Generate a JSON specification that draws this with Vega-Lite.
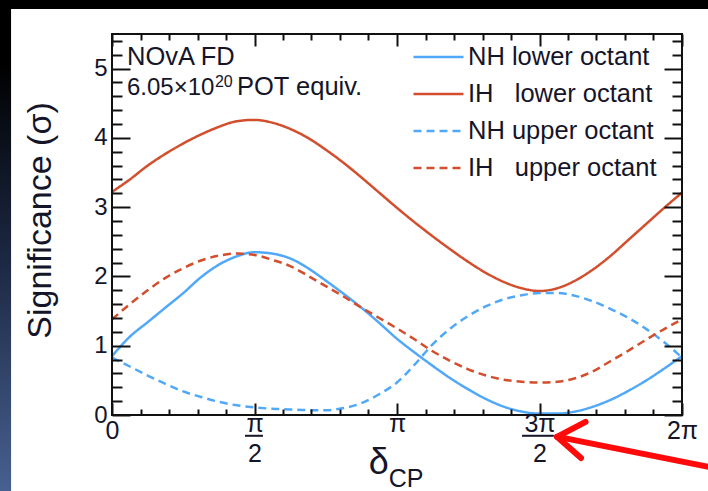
{
  "$schema": "https://vega.github.io/schema/vega-lite/v6.json",
  "width": 570,
  "height": 381,
  "autosize": {"type": "none"},
  "padding": {"left": 112, "top": 34, "right": 26, "bottom": 76},
  "background": "#000000",
  "config": {
    "font": "Liberation Sans",
    "view": {"stroke": null},
    "axis": {"grid": false, "labelColor": "#15152a", "titleColor": "#15152a", "tickColor": "#111111", "tickWidth": 2}
  },
  "datasets": {
    "curves": [
      {"s": "NH lower octant", "x": 0.0000, "y": 0.85},
      {"s": "NH lower octant", "x": 0.1963, "y": 1.13},
      {"s": "NH lower octant", "x": 0.3927, "y": 1.34},
      {"s": "NH lower octant", "x": 0.5890, "y": 1.55},
      {"s": "NH lower octant", "x": 0.7854, "y": 1.76},
      {"s": "NH lower octant", "x": 0.9817, "y": 1.99},
      {"s": "NH lower octant", "x": 1.1781, "y": 2.17},
      {"s": "NH lower octant", "x": 1.3744, "y": 2.29},
      {"s": "NH lower octant", "x": 1.5708, "y": 2.35},
      {"s": "NH lower octant", "x": 1.7671, "y": 2.33},
      {"s": "NH lower octant", "x": 1.9635, "y": 2.26},
      {"s": "NH lower octant", "x": 2.1598, "y": 2.12},
      {"s": "NH lower octant", "x": 2.3562, "y": 1.94},
      {"s": "NH lower octant", "x": 2.5525, "y": 1.75},
      {"s": "NH lower octant", "x": 2.7489, "y": 1.55},
      {"s": "NH lower octant", "x": 2.9452, "y": 1.33},
      {"s": "NH lower octant", "x": 3.1416, "y": 1.10},
      {"s": "NH lower octant", "x": 3.3379, "y": 0.90},
      {"s": "NH lower octant", "x": 3.5343, "y": 0.71},
      {"s": "NH lower octant", "x": 3.7306, "y": 0.53},
      {"s": "NH lower octant", "x": 3.9270, "y": 0.37},
      {"s": "NH lower octant", "x": 4.1233, "y": 0.23},
      {"s": "NH lower octant", "x": 4.3197, "y": 0.12},
      {"s": "NH lower octant", "x": 4.5160, "y": 0.05},
      {"s": "NH lower octant", "x": 4.7124, "y": 0.02},
      {"s": "NH lower octant", "x": 4.9087, "y": 0.02},
      {"s": "NH lower octant", "x": 5.1051, "y": 0.05},
      {"s": "NH lower octant", "x": 5.3014, "y": 0.12},
      {"s": "NH lower octant", "x": 5.4978, "y": 0.22},
      {"s": "NH lower octant", "x": 5.6941, "y": 0.35},
      {"s": "NH lower octant", "x": 5.8905, "y": 0.50},
      {"s": "NH lower octant", "x": 6.0868, "y": 0.67},
      {"s": "NH lower octant", "x": 6.2832, "y": 0.85},
      {"s": "IH\u00a0\u00a0 lower octant", "x": 0.0000, "y": 3.22},
      {"s": "IH\u00a0\u00a0 lower octant", "x": 0.1963, "y": 3.40},
      {"s": "IH\u00a0\u00a0 lower octant", "x": 0.3927, "y": 3.60},
      {"s": "IH\u00a0\u00a0 lower octant", "x": 0.5890, "y": 3.77},
      {"s": "IH\u00a0\u00a0 lower octant", "x": 0.7854, "y": 3.92},
      {"s": "IH\u00a0\u00a0 lower octant", "x": 0.9817, "y": 4.05},
      {"s": "IH\u00a0\u00a0 lower octant", "x": 1.1781, "y": 4.16},
      {"s": "IH\u00a0\u00a0 lower octant", "x": 1.3744, "y": 4.24},
      {"s": "IH\u00a0\u00a0 lower octant", "x": 1.5708, "y": 4.26},
      {"s": "IH\u00a0\u00a0 lower octant", "x": 1.7671, "y": 4.22},
      {"s": "IH\u00a0\u00a0 lower octant", "x": 1.9635, "y": 4.13},
      {"s": "IH\u00a0\u00a0 lower octant", "x": 2.1598, "y": 4.00},
      {"s": "IH\u00a0\u00a0 lower octant", "x": 2.3562, "y": 3.83},
      {"s": "IH\u00a0\u00a0 lower octant", "x": 2.5525, "y": 3.64},
      {"s": "IH\u00a0\u00a0 lower octant", "x": 2.7489, "y": 3.43},
      {"s": "IH\u00a0\u00a0 lower octant", "x": 2.9452, "y": 3.21},
      {"s": "IH\u00a0\u00a0 lower octant", "x": 3.1416, "y": 2.99},
      {"s": "IH\u00a0\u00a0 lower octant", "x": 3.3379, "y": 2.78},
      {"s": "IH\u00a0\u00a0 lower octant", "x": 3.5343, "y": 2.58},
      {"s": "IH\u00a0\u00a0 lower octant", "x": 3.7306, "y": 2.39},
      {"s": "IH\u00a0\u00a0 lower octant", "x": 3.9270, "y": 2.21},
      {"s": "IH\u00a0\u00a0 lower octant", "x": 4.1233, "y": 2.05},
      {"s": "IH\u00a0\u00a0 lower octant", "x": 4.3197, "y": 1.92},
      {"s": "IH\u00a0\u00a0 lower octant", "x": 4.5160, "y": 1.83},
      {"s": "IH\u00a0\u00a0 lower octant", "x": 4.7124, "y": 1.79},
      {"s": "IH\u00a0\u00a0 lower octant", "x": 4.9087, "y": 1.83},
      {"s": "IH\u00a0\u00a0 lower octant", "x": 5.1051, "y": 1.94},
      {"s": "IH\u00a0\u00a0 lower octant", "x": 5.3014, "y": 2.10},
      {"s": "IH\u00a0\u00a0 lower octant", "x": 5.4978, "y": 2.30},
      {"s": "IH\u00a0\u00a0 lower octant", "x": 5.6941, "y": 2.53},
      {"s": "IH\u00a0\u00a0 lower octant", "x": 5.8905, "y": 2.76},
      {"s": "IH\u00a0\u00a0 lower octant", "x": 6.0868, "y": 2.99},
      {"s": "IH\u00a0\u00a0 lower octant", "x": 6.2832, "y": 3.21},
      {"s": "NH upper octant", "x": 0.0000, "y": 0.83},
      {"s": "NH upper octant", "x": 0.1963, "y": 0.70},
      {"s": "NH upper octant", "x": 0.3927, "y": 0.57},
      {"s": "NH upper octant", "x": 0.5890, "y": 0.45},
      {"s": "NH upper octant", "x": 0.7854, "y": 0.34},
      {"s": "NH upper octant", "x": 0.9817, "y": 0.26},
      {"s": "NH upper octant", "x": 1.1781, "y": 0.19},
      {"s": "NH upper octant", "x": 1.3744, "y": 0.14},
      {"s": "NH upper octant", "x": 1.5708, "y": 0.11},
      {"s": "NH upper octant", "x": 1.7671, "y": 0.09},
      {"s": "NH upper octant", "x": 1.9635, "y": 0.08},
      {"s": "NH upper octant", "x": 2.1598, "y": 0.07},
      {"s": "NH upper octant", "x": 2.3562, "y": 0.07},
      {"s": "NH upper octant", "x": 2.5525, "y": 0.10},
      {"s": "NH upper octant", "x": 2.7489, "y": 0.17},
      {"s": "NH upper octant", "x": 2.9452, "y": 0.30},
      {"s": "NH upper octant", "x": 3.1416, "y": 0.47},
      {"s": "NH upper octant", "x": 3.3379, "y": 0.73},
      {"s": "NH upper octant", "x": 3.5343, "y": 1.02},
      {"s": "NH upper octant", "x": 3.7306, "y": 1.25},
      {"s": "NH upper octant", "x": 3.9270, "y": 1.43},
      {"s": "NH upper octant", "x": 4.1233, "y": 1.57},
      {"s": "NH upper octant", "x": 4.3197, "y": 1.67},
      {"s": "NH upper octant", "x": 4.5160, "y": 1.73},
      {"s": "NH upper octant", "x": 4.7124, "y": 1.76},
      {"s": "NH upper octant", "x": 4.9087, "y": 1.76},
      {"s": "NH upper octant", "x": 5.1051, "y": 1.72},
      {"s": "NH upper octant", "x": 5.3014, "y": 1.64},
      {"s": "NH upper octant", "x": 5.4978, "y": 1.53},
      {"s": "NH upper octant", "x": 5.6941, "y": 1.40},
      {"s": "NH upper octant", "x": 5.8905, "y": 1.24},
      {"s": "NH upper octant", "x": 6.0868, "y": 1.05},
      {"s": "NH upper octant", "x": 6.2832, "y": 0.83},
      {"s": "IH\u00a0\u00a0 upper octant", "x": 0.0000, "y": 1.38},
      {"s": "IH\u00a0\u00a0 upper octant", "x": 0.1963, "y": 1.60},
      {"s": "IH\u00a0\u00a0 upper octant", "x": 0.3927, "y": 1.80},
      {"s": "IH\u00a0\u00a0 upper octant", "x": 0.5890, "y": 1.98},
      {"s": "IH\u00a0\u00a0 upper octant", "x": 0.7854, "y": 2.12},
      {"s": "IH\u00a0\u00a0 upper octant", "x": 0.9817, "y": 2.23},
      {"s": "IH\u00a0\u00a0 upper octant", "x": 1.1781, "y": 2.30},
      {"s": "IH\u00a0\u00a0 upper octant", "x": 1.3744, "y": 2.33},
      {"s": "IH\u00a0\u00a0 upper octant", "x": 1.5708, "y": 2.31},
      {"s": "IH\u00a0\u00a0 upper octant", "x": 1.7671, "y": 2.24},
      {"s": "IH\u00a0\u00a0 upper octant", "x": 1.9635, "y": 2.15},
      {"s": "IH\u00a0\u00a0 upper octant", "x": 2.1598, "y": 2.01},
      {"s": "IH\u00a0\u00a0 upper octant", "x": 2.3562, "y": 1.86},
      {"s": "IH\u00a0\u00a0 upper octant", "x": 2.5525, "y": 1.71},
      {"s": "IH\u00a0\u00a0 upper octant", "x": 2.7489, "y": 1.55},
      {"s": "IH\u00a0\u00a0 upper octant", "x": 2.9452, "y": 1.40},
      {"s": "IH\u00a0\u00a0 upper octant", "x": 3.1416, "y": 1.25},
      {"s": "IH\u00a0\u00a0 upper octant", "x": 3.3379, "y": 1.09},
      {"s": "IH\u00a0\u00a0 upper octant", "x": 3.5343, "y": 0.92},
      {"s": "IH\u00a0\u00a0 upper octant", "x": 3.7306, "y": 0.78},
      {"s": "IH\u00a0\u00a0 upper octant", "x": 3.9270, "y": 0.66},
      {"s": "IH\u00a0\u00a0 upper octant", "x": 4.1233, "y": 0.57},
      {"s": "IH\u00a0\u00a0 upper octant", "x": 4.3197, "y": 0.51},
      {"s": "IH\u00a0\u00a0 upper octant", "x": 4.5160, "y": 0.48},
      {"s": "IH\u00a0\u00a0 upper octant", "x": 4.7124, "y": 0.47},
      {"s": "IH\u00a0\u00a0 upper octant", "x": 4.9087, "y": 0.48},
      {"s": "IH\u00a0\u00a0 upper octant", "x": 5.1051, "y": 0.53},
      {"s": "IH\u00a0\u00a0 upper octant", "x": 5.3014, "y": 0.63},
      {"s": "IH\u00a0\u00a0 upper octant", "x": 5.4978, "y": 0.78},
      {"s": "IH\u00a0\u00a0 upper octant", "x": 5.6941, "y": 0.93},
      {"s": "IH\u00a0\u00a0 upper octant", "x": 5.8905, "y": 1.09},
      {"s": "IH\u00a0\u00a0 upper octant", "x": 6.0868, "y": 1.24},
      {"s": "IH\u00a0\u00a0 upper octant", "x": 6.2832, "y": 1.38}
    ],
    "arrow": [
      {"x": 6.70, "y": -0.78, "x2": 4.93, "y2": -0.32},
      {"x": 4.905, "y": -0.315, "x2": 5.22, "y2": -0.10},
      {"x": 4.905, "y": -0.315, "x2": 5.17, "y2": -0.62}
    ],
    "bars": [
      {"x": 1.466, "x2": 1.664, "y": -0.30},
      {"x": 4.52, "x2": 4.87, "y": -0.30}
    ],
    "one": [{}]
  },
  "resolve": {"axis": {"x": "independent", "y": "independent"}},
  "layer": [
    {
      "data": {"name": "one"},
      "mark": {"type": "rect", "fill": "#ffffff", "clip": false},
      "encoding": {
        "x": {"datum": -1.113, "type": "quantitative", "scale": {"domain": [0, 6.2832], "nice": false, "zero": false}, "axis": null},
        "x2": {"datum": 7.5},
        "y": {"datum": 5.861, "type": "quantitative", "scale": {"domain": [0, 5.5], "nice": false, "zero": false}, "axis": null},
        "y2": {"datum": -1.5}
      }
    },
    {
      "data": {"name": "one"},
      "mark": {"type": "rect", "clip": false, "fill": {"gradient": "linear", "x1": 0, "y1": 0, "x2": 0, "y2": 1, "stops": [{"offset": 0, "color": "#000000"}, {"offset": 0.12, "color": "#000000"}, {"offset": 0.5, "color": "#1c2842"}, {"offset": 1, "color": "#4d6799"}]}},
      "encoding": {
        "x": {"datum": -1.3, "type": "quantitative", "scale": {"domain": [0, 6.2832], "nice": false, "zero": false}, "axis": null},
        "x2": {"datum": -1.113},
        "y": {"datum": 6.0, "type": "quantitative", "scale": {"domain": [0, 5.5], "nice": false, "zero": false}, "axis": null},
        "y2": {"datum": -1.5}
      }
    },
    {
      "data": {"name": "curves"},
      "mark": {"type": "line", "strokeWidth": 2.5, "interpolate": "monotone", "clip": true},
      "encoding": {
        "x": {
          "field": "x", "type": "quantitative",
          "scale": {"domain": [0, 6.2832], "nice": false, "zero": false},
          "axis": {
            "orient": "bottom", "zindex": 1, "values": [0, 1.5708, 3.1416, 4.7124, 6.2832],
            "ticks": false, "domain": false, "title": null,
            "labelExpr": "datum.value < 0.1 ? '0' : datum.value < 2 ? ['π', '2'] : datum.value < 4 ? 'π' : datum.value < 5 ? ['3π', '2'] : '2π'",
            "labelFontSize": 25, "labelBaseline": "top", "labelLineHeight": 30,
            "labelPadding": {"condition": {"test": "datum.value > 1 && datum.value < 6", "value": -4}, "value": 3},
            "labelFlush": false, "labelOverlap": false, "labelBound": false
          }
        },
        "y": {
          "field": "y", "type": "quantitative",
          "scale": {"domain": [0, 5.5], "nice": false, "zero": false},
          "axis": {
            "orient": "left", "zindex": 1, "values": [0, 1, 2, 3, 4, 5],
            "ticks": false, "domain": false,
            "labelFontSize": 24, "labelPadding": 5, "labelOverlap": false, "labelFlush": false,
            "title": "Significance (σ)", "titleFontSize": 34, "titleFontWeight": "normal",
            "titleAngle": -90, "titleX": -62, "titleY": 186, "titleBaseline": "alphabetic", "titleAlign": "center"
          }
        },
        "color": {
          "field": "s", "type": "nominal",
          "scale": {"domain": ["NH lower octant", "IH\u00a0\u00a0 lower octant", "NH upper octant", "IH\u00a0\u00a0 upper octant"], "range": ["#52a8f8", "#d24e2d", "#52a8f8", "#d24e2d"]},
          "legend": {
            "orient": "none", "legendX": 300, "legendY": 4.5, "title": null,
            "symbolType": "stroke", "symbolSize": 2500, "symbolStrokeWidth": 2.5,
            "labelFontSize": 25.5, "labelColor": "#15152a", "labelOffset": 3, "labelLimit": 400,
            "clipHeight": 37, "rowPadding": 0, "padding": 0
          }
        },
        "strokeDash": {
          "field": "s", "type": "nominal",
          "scale": {"domain": ["NH lower octant", "IH\u00a0\u00a0 lower octant", "NH upper octant", "IH\u00a0\u00a0 upper octant"], "range": [[1, 0], [1, 0], [8, 5], [8, 5]]},
          "legend": {
            "orient": "none", "legendX": 300, "legendY": 4.5, "title": null,
            "symbolType": "stroke", "symbolSize": 2500, "symbolStrokeWidth": 2.5,
            "labelFontSize": 25.5, "labelColor": "#15152a", "labelOffset": 3, "labelLimit": 400,
            "clipHeight": 37, "rowPadding": 0, "padding": 0
          }
        }
      }
    },
    {
      "data": {"name": "one"},
      "mark": {"type": "rect", "fill": null, "stroke": "#111111", "strokeWidth": 2, "clip": false},
      "encoding": {
        "x": {"datum": 0, "type": "quantitative", "scale": {"domain": [0, 6.2832], "nice": false, "zero": false}, "axis": null},
        "x2": {"datum": 6.2832},
        "y": {"datum": 0, "type": "quantitative", "scale": {"domain": [0, 5.5], "nice": false, "zero": false}, "axis": null},
        "y2": {"datum": 5.5}
      }
    },
    {
      "data": {"name": "bars"},
      "mark": {"type": "rule", "color": "#15152a", "strokeWidth": 2, "clip": false},
      "encoding": {
        "x": {"field": "x", "type": "quantitative", "scale": {"domain": [0, 6.2832], "nice": false, "zero": false}, "axis": null},
        "x2": {"field": "x2"},
        "y": {"field": "y", "type": "quantitative", "scale": {"domain": [0, 5.5], "nice": false, "zero": false}, "axis": null}
      }
    },
    {
      "data": {"name": "one"},
      "mark": {"type": "text", "text": "NOvA FD", "fontSize": 25.5, "align": "left", "baseline": "alphabetic", "color": "#15152a"},
      "encoding": {
        "x": {"datum": 0.165, "type": "quantitative", "scale": {"domain": [0, 6.2832], "nice": false, "zero": false}, "axis": null},
        "y": {"datum": 5.052, "type": "quantitative", "scale": {"domain": [0, 5.5], "nice": false, "zero": false}, "axis": null}
      }
    },
    {
      "data": {"name": "one"},
      "mark": {"type": "text", "text": "6.05×10", "fontSize": 24, "align": "left", "baseline": "alphabetic", "color": "#15152a"},
      "encoding": {
        "x": {"datum": 0.165, "type": "quantitative", "scale": {"domain": [0, 6.2832], "nice": false, "zero": false}, "axis": null},
        "y": {"datum": 4.619, "type": "quantitative", "scale": {"domain": [0, 5.5], "nice": false, "zero": false}, "axis": null}
      }
    },
    {
      "data": {"name": "one"},
      "mark": {"type": "text", "text": "20", "fontSize": 16, "align": "left", "baseline": "alphabetic", "color": "#15152a"},
      "encoding": {
        "x": {"datum": 1.135, "type": "quantitative", "scale": {"domain": [0, 6.2832], "nice": false, "zero": false}, "axis": null},
        "y": {"datum": 4.73, "type": "quantitative", "scale": {"domain": [0, 5.5], "nice": false, "zero": false}, "axis": null}
      }
    },
    {
      "data": {"name": "one"},
      "mark": {"type": "text", "text": "POT equiv.", "fontSize": 25.5, "align": "left", "baseline": "alphabetic", "color": "#15152a"},
      "encoding": {
        "x": {"datum": 1.378, "type": "quantitative", "scale": {"domain": [0, 6.2832], "nice": false, "zero": false}, "axis": null},
        "y": {"datum": 4.619, "type": "quantitative", "scale": {"domain": [0, 5.5], "nice": false, "zero": false}, "axis": null}
      }
    },
    {
      "data": {"name": "one"},
      "mark": {"type": "text", "text": "δ", "fontSize": 36, "align": "right", "baseline": "alphabetic", "color": "#15152a", "clip": false},
      "encoding": {
        "x": {"datum": 3.05, "type": "quantitative", "scale": {"domain": [0, 6.2832], "nice": false, "zero": false}, "axis": null},
        "y": {"datum": -0.85, "type": "quantitative", "scale": {"domain": [0, 5.5], "nice": false, "zero": false}, "axis": null}
      }
    },
    {
      "data": {"name": "one"},
      "mark": {"type": "text", "text": "CP", "fontSize": 25, "align": "left", "baseline": "alphabetic", "color": "#15152a", "clip": false},
      "encoding": {
        "x": {"datum": 3.05, "type": "quantitative", "scale": {"domain": [0, 6.2832], "nice": false, "zero": false}, "axis": null},
        "y": {"datum": -1.04, "type": "quantitative", "scale": {"domain": [0, 5.5], "nice": false, "zero": false}, "axis": null}
      }
    },
    {
      "data": {"name": "arrow"},
      "mark": {"type": "rule", "color": "#ff0a0a", "strokeWidth": 6, "strokeCap": "round", "clip": false},
      "encoding": {
        "x": {"field": "x", "type": "quantitative", "scale": {"domain": [0, 6.2832], "nice": false, "zero": false}, "axis": null},
        "x2": {"field": "x2"},
        "y": {"field": "y", "type": "quantitative", "scale": {"domain": [0, 5.5], "nice": false, "zero": false}, "axis": null},
        "y2": {"field": "y2"}
      }
    },
    {
      "data": {"name": "one"},
      "mark": {"type": "point", "opacity": 0},
      "encoding": {
        "x": {"datum": 0, "type": "quantitative", "scale": {"domain": [0, 6.2832], "nice": false, "zero": false},
          "axis": {"orient": "bottom", "zindex": 1, "values": [0, 1.5708, 3.1416, 4.7124, 6.2832], "labels": false, "domain": false, "title": null, "tickSize": 12, "offset": -12}},
        "y": {"datum": 0, "type": "quantitative", "scale": {"domain": [0, 5.5], "nice": false, "zero": false},
          "axis": {"orient": "left", "zindex": 1, "values": [0, 1, 2, 3, 4, 5], "labels": false, "domain": false, "title": null, "tickSize": 18, "offset": -18}}
      }
    },
    {
      "data": {"name": "one"},
      "mark": {"type": "point", "opacity": 0},
      "encoding": {
        "x": {"datum": 0, "type": "quantitative", "scale": {"domain": [0, 6.2832], "nice": false, "zero": false},
          "axis": {"orient": "bottom", "zindex": 1, "values": [0.3142, 0.6283, 0.9425, 1.2566, 1.885, 2.1991, 2.5133, 2.8274, 3.4558, 3.7699, 4.0841, 4.3982, 5.0265, 5.3407, 5.6549, 5.969], "labels": false, "domain": false, "title": null, "tickSize": 6, "offset": -6}},
        "y": {"datum": 0, "type": "quantitative", "scale": {"domain": [0, 5.5], "nice": false, "zero": false},
          "axis": {"orient": "left", "zindex": 1, "values": [0.2, 0.4, 0.6, 0.8, 1.2, 1.4, 1.6, 1.8, 2.2, 2.4, 2.6, 2.8, 3.2, 3.4, 3.6, 3.8, 4.2, 4.4, 4.6, 4.8, 5.2, 5.4], "labels": false, "domain": false, "title": null, "tickSize": 10, "offset": -10}}
      }
    },
    {
      "data": {"name": "one"},
      "mark": {"type": "point", "opacity": 0},
      "encoding": {
        "x": {"datum": 0, "type": "quantitative", "scale": {"domain": [0, 6.2832], "nice": false, "zero": false},
          "axis": {"orient": "top", "zindex": 1, "values": [0, 1.5708, 3.1416, 4.7124, 6.2832], "labels": false, "domain": false, "title": null, "tickSize": 12, "offset": -12}},
        "y": {"datum": 0, "type": "quantitative", "scale": {"domain": [0, 5.5], "nice": false, "zero": false},
          "axis": {"orient": "right", "zindex": 1, "values": [0, 1, 2, 3, 4, 5], "labels": false, "domain": false, "title": null, "tickSize": 18, "offset": -18}}
      }
    },
    {
      "data": {"name": "one"},
      "mark": {"type": "point", "opacity": 0},
      "encoding": {
        "x": {"datum": 0, "type": "quantitative", "scale": {"domain": [0, 6.2832], "nice": false, "zero": false},
          "axis": {"orient": "top", "zindex": 1, "values": [0.3142, 0.6283, 0.9425, 1.2566, 1.885, 2.1991, 2.5133, 2.8274, 3.4558, 3.7699, 4.0841, 4.3982, 5.0265, 5.3407, 5.6549, 5.969], "labels": false, "domain": false, "title": null, "tickSize": 6, "offset": -6}},
        "y": {"datum": 0, "type": "quantitative", "scale": {"domain": [0, 5.5], "nice": false, "zero": false},
          "axis": {"orient": "right", "zindex": 1, "values": [0.2, 0.4, 0.6, 0.8, 1.2, 1.4, 1.6, 1.8, 2.2, 2.4, 2.6, 2.8, 3.2, 3.4, 3.6, 3.8, 4.2, 4.4, 4.6, 4.8, 5.2, 5.4], "labels": false, "domain": false, "title": null, "tickSize": 10, "offset": -10}}
      }
    }
  ]
}
